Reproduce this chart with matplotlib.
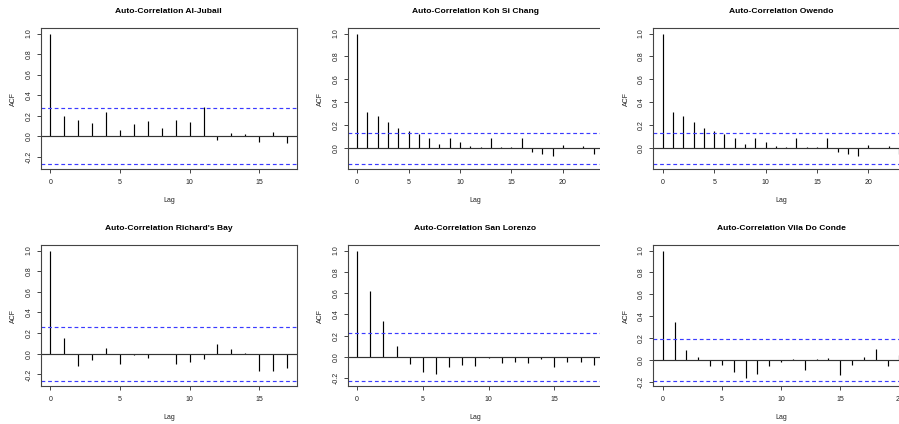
import numpy as np
import matplotlib
matplotlib.use("Agg")
import matplotlib.pyplot as plt
from matplotlib.patches import Rectangle

plt.rcParams['font.family'] = ['Liberation Sans', 'DejaVu Sans']

titles = ["Auto-Correlation Al-Jubail", "Auto-Correlation Koh Si Chang",
          "Auto-Correlation Owendo", "Auto-Correlation Richard's Bay",
          "Auto-Correlation San Lorenzo", "Auto-Correlation Vila Do Conde"]

acf_al_jubail = [1.0, 0.198, 0.159, 0.127, 0.237, 0.058, 0.12, 0.146, 0.081,
                 0.156, 0.14, 0.282, -0.042, 0.032, 0.019, -0.058, 0.042, -0.065]
acf_koh_si_chang = [1.0, 0.315, 0.286, 0.227, 0.178, 0.149, 0.128, 0.087, 0.035,
                    0.087, 0.058, 0.02, 0.012, 0.087, 0.009, 0.009, 0.093,
                    -0.032, -0.05, -0.064, 0.029, 0.003, 0.023, -0.05]
acf_owendo = [1.0, 0.315, 0.286, 0.227, 0.178, 0.149, 0.128, 0.087, 0.035,
              0.087, 0.058, 0.02, 0.012, 0.087, 0.009, 0.009, 0.093,
              -0.032, -0.05, -0.064, 0.029, 0.003, 0.023, -0.05]
acf_richards_bay = [1.0, 0.156, -0.12, -0.059, 0.059, -0.10, -0.01, -0.036, -0.004,
                    -0.094, -0.078, -0.049, 0.091, 0.049, 0.01, -0.166, -0.163, -0.137]
acf_san_lorenzo = [1.0, 0.623, 0.34, 0.104, -0.063, -0.145, -0.157, -0.094, -0.075,
                   -0.088, -0.013, -0.06, -0.044, -0.06, -0.022, -0.094, -0.047,
                   -0.053, -0.079]
acf_vila_do_conde = [1.0, 0.344, 0.092, 0.025, -0.055, -0.049, -0.113, -0.166,
                     -0.132, -0.055, -0.015, 0.009, -0.089, 0.009, 0.021, -0.138,
                     -0.043, 0.025, 0.101, -0.058, 0.043]

conf_limits = [0.272, 0.137, 0.137, 0.264, 0.228, 0.193]

series = [acf_al_jubail, acf_koh_si_chang, acf_owendo,
          acf_richards_bay, acf_san_lorenzo, acf_vila_do_conde]

W, H = 899, 424
fig = plt.figure(figsize=(W / 100, H / 100), dpi=100)
fig.patch.set_facecolor('white')

col_left = [41, 347.7, 653.3]
row_top = [28.3, 245.3]
ax_w = 255.5
ax_h = 141.0

txt = '#222222'
for i, (vals, ci, title) in enumerate(zip(series, conf_limits, titles)):
    r, c = divmod(i, 3)
    l = col_left[c]
    t = row_top[r]
    ax = fig.add_axes([l / W, 1 - (t + ax_h) / H, ax_w / W, ax_h / H])
    lags = np.arange(len(vals))
    n = len(vals) - 1
    ax.vlines(lags, 0, vals, colors='black', linewidth=0.85)
    ax.axhline(0, color='#333333', linewidth=0.85)
    ax.axhline(ci, color='#3a3aff', linestyle=(0, (3.2, 2.4)), linewidth=0.85)
    ax.axhline(-ci, color='#3a3aff', linestyle=(0, (3.2, 2.4)), linewidth=0.85)
    ext = 0.04 * n
    ax.set_xlim(-ext, n + ext)
    lo = -ci
    yext = 0.04 * (1 - lo)
    ax.set_ylim(lo - yext, 1 + yext)
    ax.set_xticks([x for x in range(0, n + 1, 5)])
    yt = [v for v in [-0.2, 0.0, 0.2, 0.4, 0.6, 0.8, 1.0] if v >= lo - yext]
    ax.set_yticks(yt)
    ax.set_yticklabels([f"{v:.1f}" for v in yt], rotation=90, va='center')
    ax.tick_params(axis='both', direction='out', length=3.0, width=0.7,
                   colors='#444444', labelcolor=txt, labelsize=5)
    ax.tick_params(axis='x', pad=4.2)
    ax.tick_params(axis='y', pad=3.0)
    for s in ax.spines.values():
        s.set_color('#444444')
        s.set_linewidth(0.8)
    ax.set_xlabel('Lag', fontsize=5, color=txt, labelpad=8)
    ax.set_ylabel('ACF', fontsize=5, color=txt, labelpad=6)
    ax.set_title(title, fontsize=6.1, fontweight='bold', color='black', pad=11)

# the middle column is clipped where the right column begins
fig.add_artist(Rectangle((600 / W, 0), 8 / W, 1, transform=fig.transFigure,
                         facecolor='white', edgecolor='none', zorder=10))

fig.savefig('out.png', dpi=100)
